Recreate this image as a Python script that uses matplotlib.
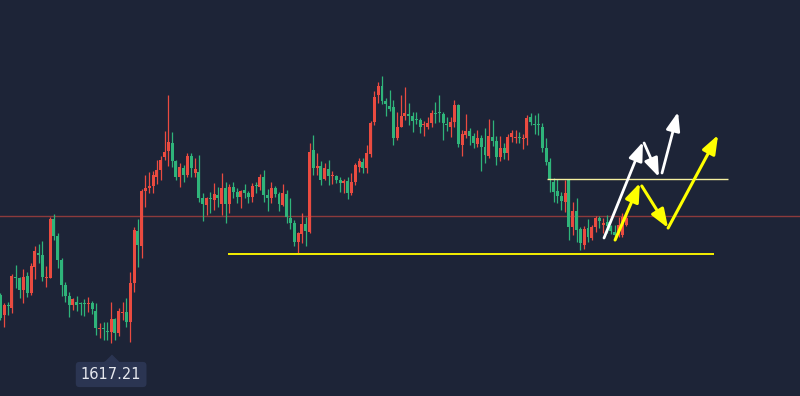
import numpy as np
import matplotlib.pyplot as plt
from matplotlib import transforms

# K线数据 (红涨绿跌)
opens = [1665, 1645, 1655, 1652, 1683, 1682, 1670, 1684, 1667, 1693,
         1707, 1705, 1682, 1682, 1741, 1724, 1700, 1675, 1664, 1655,
         1658, 1657, 1657, 1656, 1657, 1649, 1631, 1632, 1629, 1628,
         1641, 1627, 1647, 1648, 1638, 1677, 1729, 1714, 1769, 1772,
         1774, 1783, 1790, 1803, 1809, 1817, 1799, 1783, 1792, 1785,
         1804, 1787, 1788, 1762, 1755, 1762, 1760, 1765, 1756, 1772,
         1756, 1773, 1768, 1763, 1770, 1767, 1763, 1775, 1773, 1783,
         1765, 1762, 1772, 1766, 1755, 1766, 1742, 1737, 1718, 1726,
         1736, 1728, 1810, 1792, 1794, 1781, 1791, 1784, 1784, 1780,
         1777, 1779, 1767, 1778, 1793, 1798, 1792, 1806, 1838, 1865,
         1874, 1859, 1854, 1853, 1822, 1833, 1844, 1846, 1844, 1841,
         1840, 1835, 1833, 1837, 1847, 1848, 1846, 1836, 1833, 1838,
         1855, 1815, 1825, 1829, 1824, 1816, 1822, 1813, 1804, 1823,
         1819, 1803, 1812, 1807, 1823, 1822, 1823, 1821, 1822, 1843,
         1836, 1836, 1833, 1812, 1798, 1778, 1769, 1764, 1758, 1780,
         1733, 1749, 1731, 1715, 1732, 1722, 1733, 1742, 1735, 1738,
         1734, 1728, 1726, 1725, 1735]
closes = [1642, 1655, 1654, 1684, 1682, 1670, 1683, 1667, 1694, 1709,
          1705, 1683, 1683, 1741, 1724, 1700, 1675, 1664, 1655, 1661,
          1655, 1656, 1656, 1657, 1651, 1632, 1632, 1631, 1628, 1641,
          1627, 1649, 1648, 1638, 1677, 1730, 1715, 1769, 1772, 1774,
          1785, 1790, 1800, 1808, 1818, 1799, 1783, 1793, 1785, 1804,
          1792, 1791, 1762, 1756, 1762, 1761, 1766, 1762, 1772, 1756,
          1773, 1768, 1763, 1769, 1767, 1763, 1774, 1774, 1783, 1765,
          1762, 1772, 1766, 1756, 1767, 1743, 1737, 1718, 1727, 1736,
          1729, 1808, 1792, 1794, 1780, 1792, 1784, 1785, 1780, 1777,
          1779, 1767, 1778, 1795, 1799, 1792, 1807, 1837, 1863, 1874,
          1859, 1856, 1851, 1822, 1833, 1844, 1847, 1844, 1839, 1840,
          1833, 1836, 1837, 1847, 1846, 1847, 1837, 1835, 1838, 1855,
          1816, 1826, 1829, 1824, 1817, 1822, 1813, 1805, 1824, 1819,
          1803, 1812, 1807, 1823, 1827, 1823, 1822, 1822, 1842, 1838,
          1835, 1835, 1812, 1798, 1780, 1768, 1764, 1759, 1767, 1733,
          1749, 1730, 1717, 1731, 1723, 1733, 1742, 1739, 1737, 1734,
          1729, 1725, 1735, 1743, 1742]
highs = [1667, 1657, 1658, 1686, 1695, 1683, 1691, 1688, 1697, 1714,
         1716, 1719, 1694, 1743, 1746, 1727, 1702, 1678, 1668, 1662,
         1664, 1658, 1661, 1663, 1659, 1657, 1637, 1638, 1638, 1658,
         1642, 1652, 1658, 1662, 1688, 1733, 1741, 1771, 1785, 1788,
         1789, 1800, 1804, 1829, 1865, 1828, 1800, 1797, 1795, 1807,
         1807, 1802, 1805, 1767, 1763, 1768, 1777, 1773, 1787, 1778,
         1776, 1778, 1772, 1770, 1776, 1769, 1777, 1778, 1786, 1790,
         1771, 1778, 1774, 1768, 1776, 1770, 1762, 1740, 1728, 1747,
         1743, 1817, 1825, 1807, 1799, 1797, 1800, 1789, 1785, 1783,
         1781, 1783, 1787, 1797, 1802, 1802, 1815, 1839, 1869, 1878,
         1884, 1862, 1870, 1860, 1848, 1865, 1873, 1857, 1848, 1848,
         1842, 1839, 1843, 1850, 1858, 1865, 1848, 1843, 1843, 1860,
         1856, 1830, 1846, 1832, 1827, 1830, 1825, 1832, 1841, 1840,
         1824, 1824, 1817, 1826, 1830, 1830, 1828, 1826, 1845, 1847,
         1845, 1847, 1837, 1822, 1802, 1782, 1781, 1768, 1780, 1781,
         1758, 1762, 1733, 1734, 1741, 1735, 1744, 1744, 1742, 1745,
         1735, 1735, 1743, 1747, 1747]
lows = [1640, 1633, 1645, 1647, 1672, 1662, 1657, 1663, 1665, 1681,
        1697, 1679, 1673, 1682, 1720, 1692, 1664, 1658, 1643, 1650,
        1649, 1645, 1644, 1648, 1646, 1625, 1622, 1620, 1620, 1617,
        1620, 1624, 1640, 1633, 1618, 1668, 1693, 1702, 1753, 1767,
        1767, 1776, 1780, 1800, 1794, 1793, 1780, 1773, 1778, 1783,
        1783, 1783, 1758, 1739, 1745, 1747, 1750, 1753, 1745, 1737,
        1747, 1762, 1757, 1752, 1762, 1757, 1758, 1767, 1770, 1758,
        1749, 1757, 1763, 1749, 1754, 1737, 1731, 1714, 1707, 1717,
        1714, 1727, 1785, 1785, 1775, 1780, 1775, 1776, 1777, 1768,
        1767, 1761, 1765, 1775, 1788, 1787, 1787, 1803, 1835, 1857,
        1856, 1844, 1849, 1815, 1820, 1833, 1840, 1835, 1828, 1836,
        1827, 1824, 1831, 1833, 1837, 1838, 1820, 1829, 1823, 1833,
        1813, 1804, 1822, 1815, 1812, 1813, 1789, 1797, 1802, 1814,
        1795, 1799, 1801, 1800, 1818, 1817, 1817, 1811, 1815, 1835,
        1826, 1825, 1808, 1795, 1768, 1758, 1757, 1750, 1748, 1720,
        1725, 1718, 1710, 1711, 1718, 1720, 1728, 1732, 1727, 1727,
        1726, 1720, 1723, 1723, 1734]

low_value = 1617.21
current_price = 1744
support = 1706
resistance = 1781

# 画的走势箭头 (起点, 终点)
white_arrows = [((158.2, 1722), (168.4, 1818)),
                ((168.7, 1817), (172.6, 1783)),
                ((173.4, 1787), (177.6, 1848))]
yellow_arrows = [((161.1, 1720), (167.6, 1777)),
                 ((168.1, 1774), (175.0, 1732)),
                 ((175.0, 1732), (188.1, 1825))]

bg = '#1d2437'
up_color = '#ea4b40'
down_color = '#2fb47a'

o = np.array(opens)
c = np.array(closes)
h = np.array(highs)
l = np.array(lows)
x = np.arange(len(o))
colors = np.where(c >= o, up_color, down_color)

fig = plt.figure(figsize=(8, 3.96), dpi=100, facecolor=bg)
ax = fig.add_axes([0, 0, 1, 1])
ax.set_facecolor(bg)

# 当前价格线
ax.axhline(current_price, color='#8c3a3c', lw=1, zorder=1)

ax.vlines(x, l, h, colors=colors, lw=0.9, zorder=2)
body_bottom = np.minimum(o, c)
body_height = np.maximum(np.abs(c - o), 1)
ax.bar(x, body_height, bottom=body_bottom, width=0.78, color=colors,
       linewidth=0, zorder=3)

# 支撑和压力
ax.hlines(support, 59.6, 187.0, color='#f5f000', lw=1.4, zorder=4)
ax.hlines(resistance, 143.3, 190.7, color='#f5f0a0', lw=1, zorder=4)

style = '-|>,head_length=0.8,head_width=0.3'
for start, end in white_arrows:
    ax.annotate('', xy=end, xytext=start,
                arrowprops=dict(arrowstyle=style, color='white', lw=2,
                                mutation_scale=14, shrinkA=0, shrinkB=0),
                zorder=5)
for start, end in yellow_arrows:
    ax.annotate('', xy=end, xytext=start,
                arrowprops=dict(arrowstyle=style, color='#ffff00', lw=2.2,
                                mutation_scale=14, shrinkA=0, shrinkB=0),
                zorder=5)

# 最低价标签
i_low = int(np.argmin(l))
ax.annotate(f'{low_value:.2f}', xy=(i_low, l[i_low]), xytext=(0, -31.5),
            textcoords='offset pixels', ha='center', va='center',
            fontsize=10.5, color='#e6e8ee',
            bbox=dict(boxstyle='round,pad=0.35,rounding_size=0.25',
                      fc='#2b3552', ec='none'))
tri = transforms.offset_copy(ax.transData, fig=fig, x=0, y=-14.5, units='dots')
ax.plot(i_low, l[i_low], marker=[(-1, -0.5), (1, -0.5), (0, 0.5)], ms=10,
        color='#2b3552', transform=tri, zorder=6)

ax.set_xlim(-0.13, 209.57)
ax.set_ylim(1564, 1960)
ax.axis('off')

plt.savefig('out.png', dpi=100, facecolor=bg)
